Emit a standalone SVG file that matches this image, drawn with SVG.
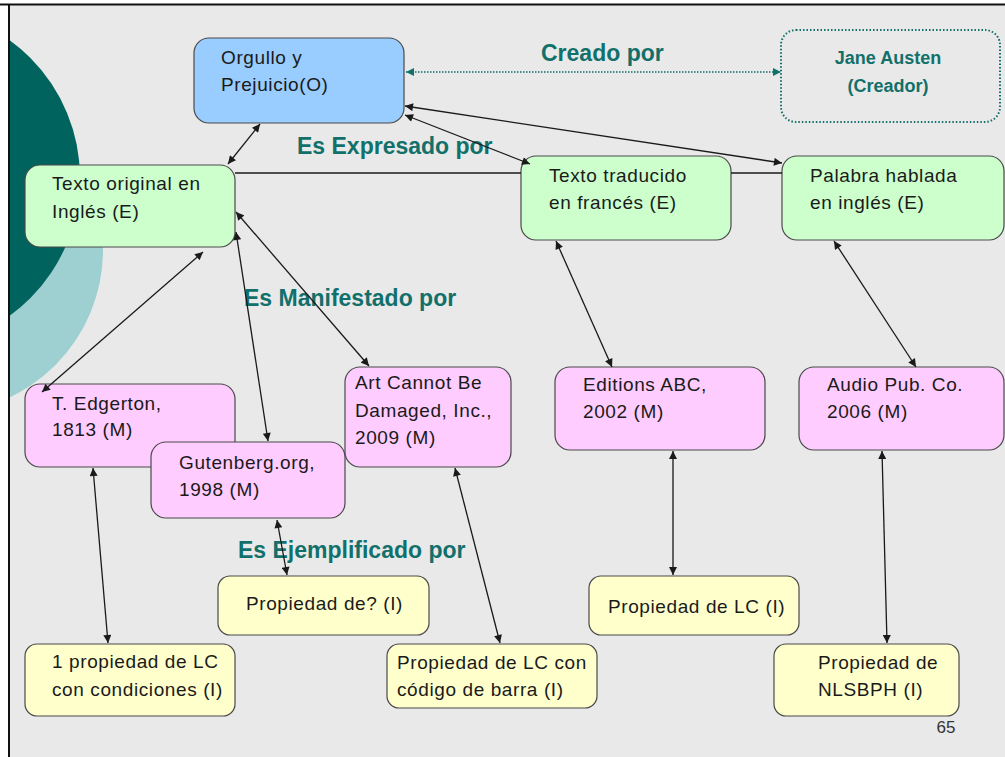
<svg xmlns="http://www.w3.org/2000/svg" width="1005" height="757" viewBox="0 0 1005 757">
<style>
.box{stroke:#4a4a4a;stroke-width:1.2}
.o{fill:#99ccff}
.e{fill:#ccffcc}
.m{fill:#ffccff}
.i{fill:#ffffcc}
.t{font-family:"Liberation Sans",Arial,sans-serif;font-size:19px;fill:#1a1a1a;letter-spacing:0.6px}
.lbl{font-family:"Liberation Sans",Arial,sans-serif;font-size:23px;font-weight:bold;fill:#12706b}
.cr{font-family:"Liberation Sans",Arial,sans-serif;font-size:18px;font-weight:bold;fill:#12706b}
.c{stroke:#1a1a1a;stroke-width:1.3;fill:none;marker-start:url(#ah);marker-end:url(#ah)}
</style>
<defs>
<marker id="ah" viewBox="0 0 10 10" refX="10" refY="5" markerWidth="9" markerHeight="8" markerUnits="userSpaceOnUse" orient="auto-start-reverse"><path d="M0,0 L10,5 L0,10 Z" fill="#1a1a1a"/></marker>
<marker id="ahg" viewBox="0 0 10 10" refX="10" refY="5" markerWidth="9" markerHeight="8" markerUnits="userSpaceOnUse" orient="auto-start-reverse"><path d="M0,0 L10,5 L0,10 Z" fill="#12706b"/></marker>
<clipPath id="clip"><rect x="10" y="6" width="995" height="751"/></clipPath>
</defs>
<rect x="0" y="0" width="1005" height="757" fill="#ffffff"/>
<rect x="9" y="4" width="996" height="753" fill="#e9e9e9"/>
<g clip-path="url(#clip)">
<circle cx="-60" cy="250" r="163" fill="#9ecfd1"/>
<circle cx="-90" cy="178" r="170" fill="#00635e"/>
</g>
<line x1="0" y1="4.5" x2="1005" y2="4.5" stroke="#111" stroke-width="2"/>
<line x1="9" y1="4" x2="9" y2="757" stroke="#111" stroke-width="2"/>

<g id="labels">
<text class="lbl" x="541" y="61">Creado por</text>
<text class="lbl" x="297" y="154">Es Expresado por</text>
<text class="lbl" x="244" y="306">Es Manifestado por</text>
<text class="lbl" x="238" y="558">Es Ejemplificado por</text>
<text x="946" y="733" text-anchor="middle" style="font-family:'Liberation Sans',Arial,sans-serif;font-size:17px;fill:#333">65</text>
</g>

<g id="n-orgullo"><rect class="box o" x="194" y="38" width="210" height="85" rx="15"/><text class="t" x="221" y="64">Orgullo y</text><text class="t" x="221" y="91">Prejuicio(O)</text></g>
<g id="n-austen"><rect x="781" y="30" width="219" height="92" rx="15" fill="none" stroke="#12706b" stroke-width="2" stroke-dasharray="1.5,2"/><text class="cr" x="888" y="64" text-anchor="middle">Jane Austen</text><text class="cr" x="888" y="92" text-anchor="middle">(Creador)</text></g>

<g id="n-texto-original"><rect class="box e" x="25" y="165" width="210" height="82" rx="15"/><text class="t" x="52" y="190">Texto original en</text><text class="t" x="52" y="218">Inglés (E)</text></g>
<g id="n-texto-traducido"><rect class="box e" x="521" y="156" width="210" height="84" rx="15"/><text class="t" x="549" y="182">Texto traducido</text><text class="t" x="549" y="209">en francés (E)</text></g>
<g id="n-palabra"><rect class="box e" x="782" y="156" width="222" height="84" rx="15"/><text class="t" x="810" y="182">Palabra hablada</text><text class="t" x="810" y="209">en inglés (E)</text></g>

<g id="n-edgerton"><rect class="box m" x="25" y="384" width="210" height="83" rx="15"/><text class="t" x="52" y="410">T. Edgerton,</text><text class="t" x="52" y="436">1813 (M)</text></g>
<g id="n-gutenberg"><rect class="box m" x="151" y="442" width="194" height="76" rx="15"/><text class="t" x="179" y="469">Gutenberg.org,</text><text class="t" x="179" y="496">1998 (M)</text></g>
<g id="n-artcannot"><rect class="box m" x="345" y="367" width="166" height="100" rx="15"/><text class="t" x="355" y="389">Art Cannot Be</text><text class="t" x="355" y="417">Damaged, Inc.,</text><text class="t" x="355" y="444">2009 (M)</text></g>
<g id="n-editions"><rect class="box m" x="555" y="367" width="210" height="83" rx="15"/><text class="t" x="583" y="391">Editions ABC,</text><text class="t" x="583" y="418">2002 (M)</text></g>
<g id="n-audio"><rect class="box m" x="799" y="367" width="205" height="83" rx="15"/><text class="t" x="827" y="391">Audio Pub. Co.</text><text class="t" x="827" y="418">2006 (M)</text></g>

<g id="n-prop-q"><rect class="box i" x="218" y="576" width="211" height="59" rx="12"/><text class="t" x="246" y="610">Propiedad de? (I)</text></g>
<g id="n-prop-cond"><rect class="box i" x="25" y="644" width="210" height="72" rx="12"/><text class="t" x="52" y="668">1 propiedad de LC</text><text class="t" x="52" y="696">con condiciones (I)</text></g>
<g id="n-prop-barra"><rect class="box i" x="387" y="644" width="210" height="64" rx="12"/><text class="t" x="397" y="669">Propiedad de LC con</text><text class="t" x="397" y="696">código de barra (I)</text></g>
<g id="n-prop-lc"><rect class="box i" x="589" y="576" width="210" height="59" rx="12"/><text class="t" x="608" y="613">Propiedad de LC (I)</text></g>
<g id="n-prop-nlsbph"><rect class="box i" x="774" y="644" width="185" height="72" rx="12"/><text class="t" x="818" y="669">Propiedad de</text><text class="t" x="818" y="696">NLSBPH (I)</text></g>

<g id="connectors">
<line x1="406" y1="72" x2="781" y2="72" stroke="#12706b" stroke-width="1.3" stroke-dasharray="1.5,1.5" marker-start="url(#ahg)" marker-end="url(#ahg)"/>
<line x1="235" y1="173" x2="521" y2="173" stroke="#1a1a1a" stroke-width="1.3"/>
<line x1="731" y1="173" x2="782" y2="173" stroke="#1a1a1a" stroke-width="1.3"/>
<line class="c" x1="260" y1="124" x2="228" y2="164"/>
<line class="c" x1="405" y1="115" x2="530" y2="164"/>
<line class="c" x1="405" y1="106" x2="782" y2="163"/>
<line class="c" x1="203" y1="252" x2="42" y2="392"/>
<line class="c" x1="236" y1="232" x2="268" y2="441"/>
<line class="c" x1="236" y1="212" x2="369" y2="366"/>
<line class="c" x1="556" y1="241" x2="612" y2="367"/>
<line class="c" x1="834" y1="241" x2="916" y2="367"/>
<line class="c" x1="93" y1="468" x2="108" y2="643"/>
<line class="c" x1="277" y1="520" x2="287" y2="575"/>
<line class="c" x1="455" y1="468" x2="500" y2="643"/>
<line class="c" x1="673" y1="451" x2="673" y2="575"/>
<line class="c" x1="882" y1="451" x2="887" y2="643"/>
</g>
</svg>
